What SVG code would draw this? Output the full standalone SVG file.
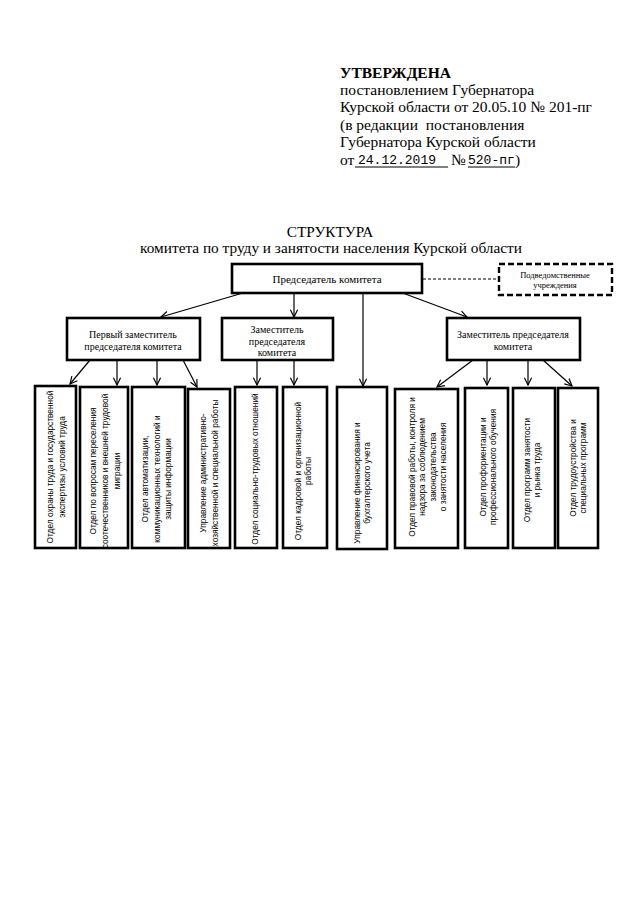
<svg xmlns="http://www.w3.org/2000/svg" width="640" height="905" viewBox="0 0 640 905">
<defs>
<marker id="arr" viewBox="0 0 10 10" refX="9" refY="5" markerWidth="9" markerHeight="9" markerUnits="userSpaceOnUse" orient="auto">
<path d="M1,1 L9,5 L1,9" fill="none" stroke="#000" stroke-width="1.3"/>
</marker>
</defs>
<style>
.hdr{font-family:"Liberation Serif","Times New Roman",serif;font-size:15.5px;fill:#000}
.mono{font-family:"Liberation Mono","Courier New",monospace;font-size:13px;fill:#000}
.ttl{font-family:"Liberation Serif","Times New Roman",serif;font-size:15.3px;fill:#000;text-anchor:middle}
.box{fill:#fff;stroke:#000;stroke-width:2.6}
.dbox{fill:#fff;stroke:#000;stroke-width:2.4;stroke-dasharray:6 3}
.t1{font-family:"Liberation Serif","Times New Roman",serif;font-size:11px;fill:#000;text-anchor:middle}
.t2{font-family:"Liberation Serif","Times New Roman",serif;font-size:10px;fill:#000;text-anchor:middle}
.t3{font-family:"Liberation Serif","Times New Roman",serif;font-size:8.5px;fill:#000;text-anchor:middle}
.tv{font-family:"Liberation Sans",Arial,sans-serif;font-size:8.3px;fill:#000;text-anchor:middle}
.ln{fill:none;stroke:#000;stroke-width:1.2}
.dl{fill:none;stroke:#000;stroke-width:1.2;stroke-dasharray:3 2}
</style>
<rect width="640" height="905" fill="#fff"/>
<g id="header">
<text class="hdr" x="340" y="78" font-weight="bold">УТВЕРЖДЕНА</text>
<text class="hdr" x="340" y="95">постановлением Губернатора</text>
<text class="hdr" x="340" y="112">Курской области от 20.05.10 № 201-пг</text>
<text class="hdr" x="340" y="130" xml:space="preserve">(в редакции  постановления</text>
<text class="hdr" x="340" y="147">Губернатора Курской области</text>
<text class="hdr" x="340" y="165">от</text>
<text class="mono" x="358" y="164">24.12.2019</text>
<line x1="355" y1="167" x2="448" y2="167" stroke="#000" stroke-width="1"/>
<text class="hdr" x="451" y="165">№</text>
<text class="mono" x="468" y="164">520-пг</text>
<line x1="468" y1="167" x2="515" y2="167" stroke="#000" stroke-width="1"/>
<text class="hdr" x="515" y="165">)</text>
</g>
<g id="title">
<text class="ttl" x="330" y="237">СТРУКТУРА</text>
<text class="ttl" x="331" y="253">комитета по труду и занятости населения Курской области</text>
</g>
<g id="connectors">
<line class="dl" x1="423" y1="279" x2="497" y2="279"/>
<line class="ln" x1="243" y1="293" x2="161" y2="317" marker-end="url(#arr)"/>
<line class="ln" x1="294" y1="293" x2="294" y2="317" marker-end="url(#arr)"/>
<line class="ln" x1="363" y1="293" x2="363" y2="386" marker-end="url(#arr)"/>
<line class="ln" x1="400" y1="292" x2="467" y2="317" marker-end="url(#arr)"/>
<line class="ln" x1="90" y1="360" x2="70" y2="384" marker-end="url(#arr)"/>
<line class="ln" x1="117" y1="360" x2="117" y2="385" marker-end="url(#arr)"/>
<line class="ln" x1="157" y1="360" x2="157" y2="385" marker-end="url(#arr)"/>
<line class="ln" x1="183" y1="360" x2="197" y2="387" marker-end="url(#arr)"/>
<line class="ln" x1="257" y1="360" x2="257" y2="385" marker-end="url(#arr)"/>
<line class="ln" x1="294" y1="360" x2="294" y2="385" marker-end="url(#arr)"/>
<line class="ln" x1="473" y1="360" x2="437" y2="387" marker-end="url(#arr)"/>
<line class="ln" x1="487" y1="360" x2="487" y2="385" marker-end="url(#arr)"/>
<line class="ln" x1="528" y1="360" x2="528" y2="385" marker-end="url(#arr)"/>
<line class="ln" x1="543" y1="360" x2="572" y2="386" marker-end="url(#arr)"/>
</g>
<g id="chair">
<rect class="box" x="232" y="264" width="190" height="29"/>
<text class="t1" x="327" y="283">Председатель комитета</text>
</g>
<g id="subordinate">
<rect class="dbox" x="499" y="264" width="113" height="31"/>
<text class="t3" x="555" y="278">Подведомственные</text>
<text class="t3" x="555" y="288">учреждения</text>
</g>
<g id="deputy1">
<rect class="box" x="67" y="318" width="133" height="42"/>
<text class="t2" x="133" y="338">Первый заместитель</text>
<text class="t2" x="133" y="350">председателя комитета</text>
</g>
<g id="deputy2">
<rect class="box" x="222" y="318" width="111" height="42"/>
<text class="t2" x="277" y="333">Заместитель</text>
<text class="t2" x="277" y="345">председателя</text>
<text class="t2" x="277" y="356">комитета</text>
</g>
<g id="deputy3">
<rect class="box" x="447" y="318" width="133" height="42"/>
<text class="t2" x="513" y="338">Заместитель председателя</text>
<text class="t2" x="513" y="350">комитета</text>
</g>
<g id="d1">
<rect class="box" x="35" y="386" width="41" height="162"/>
<g transform="translate(0,467) rotate(-90)"><text class="tv" x="0" y="53">Отдел охраны труда и государственной</text><text class="tv" x="0" y="65">экспертизы условий труда</text></g>
</g>
<g id="d2">
<rect class="box" x="80" y="387" width="48" height="161"/>
<g transform="translate(0,471) rotate(-90)"><text class="tv" x="0" y="96">Отдел по вопросам переселения</text><text class="tv" x="0" y="108">соотечественников и внешней трудовой</text><text class="tv" x="0" y="120">миграции</text></g>
</g>
<g id="d3">
<rect class="box" x="132" y="387" width="53" height="161"/>
<g transform="translate(0,479) rotate(-90)"><text class="tv" x="0" y="148">Отдел автоматизации,</text><text class="tv" x="0" y="160">коммуникационных технологий и</text><text class="tv" x="0" y="171">защиты информации</text></g>
</g>
<g id="d4">
<rect class="box" x="188" y="389" width="42" height="159"/>
<g transform="translate(0,473) rotate(-90)"><text class="tv" x="0" y="206">Управление административно-</text><text class="tv" x="0" y="218">хозяйственной и специальной работы</text></g>
</g>
<g id="d5">
<rect class="box" x="235" y="387" width="42" height="161"/>
<g transform="translate(0,469) rotate(-90)"><text class="tv" x="0" y="258">Отдел социально-трудовых отношений</text></g>
</g>
<g id="d6">
<rect class="box" x="283" y="387" width="44" height="161"/>
<g transform="translate(0,471) rotate(-90)"><text class="tv" x="0" y="301">Отдел кадровой и организационной</text><text class="tv" x="0" y="311">работы</text></g>
</g>
<g id="d7">
<rect class="box" x="337" y="387" width="50" height="162" stroke-width="3"/>
<g transform="translate(0,483) rotate(-90)"><text class="tv" x="0" y="360">Управление финансирования и</text><text class="tv" x="0" y="370">бухгалтерского учета</text></g>
</g>
<g id="d8">
<rect class="box" x="395" y="389" width="63" height="159"/>
<g transform="translate(0,467) rotate(-90)"><text class="tv" x="0" y="415">Отдел правовой работы, контроля и</text><text class="tv" x="0" y="425">надзора за соблюдением</text><text class="tv" x="0" y="436">законодательства</text><text class="tv" x="0" y="446">о занятости населения</text></g>
</g>
<g id="d9">
<rect class="box" x="465" y="388" width="43" height="160"/>
<g transform="translate(0,467) rotate(-90)"><text class="tv" x="0" y="486">Отдел профориентации и</text><text class="tv" x="0" y="496">профессионального обучения</text></g>
</g>
<g id="d10">
<rect class="box" x="513" y="388" width="42" height="160"/>
<g transform="translate(0,470) rotate(-90)"><text class="tv" x="0" y="530">Отдел программ занятости</text><text class="tv" x="0" y="540">и рынка труда</text></g>
</g>
<g id="d11">
<rect class="box" x="558" y="388" width="40" height="160"/>
<g transform="translate(0,468) rotate(-90)"><text class="tv" x="0" y="576">Отдел трудоустройства и</text><text class="tv" x="0" y="586">специальных программ</text></g>
</g>
</svg>
